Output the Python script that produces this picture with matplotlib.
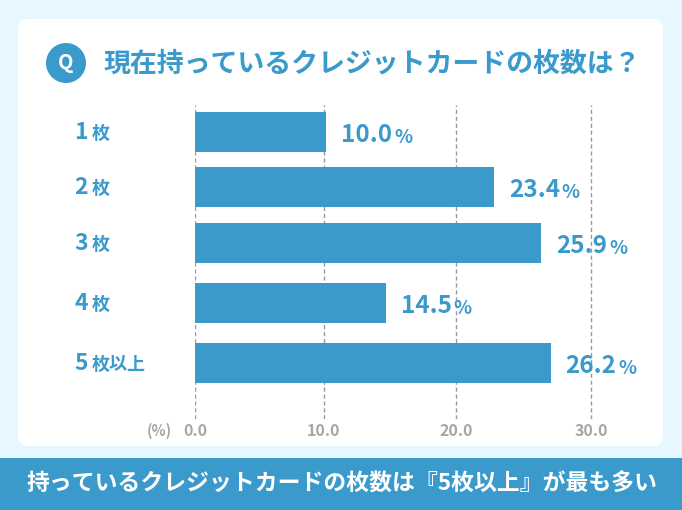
import numpy as np
import matplotlib
matplotlib.use("Agg")
import matplotlib.pyplot as plt
from matplotlib.patches import FancyBboxPatch, Circle, Rectangle

plt.rcParams['font.family'] = ['Noto Sans CJK JP', 'DejaVu Sans']

# data
counts = ["1", "2", "3", "4", "5"]
count_suffix = ["枚", "枚", "枚", "枚", "枚以上"]
printed_values = ["10.0", "23.4", "25.9", "14.5", "26.2"]
bar_lengths = [10.2, 22.8, 26.3, 14.7, 27.0]   # as read against the gridlines
bar_centers = [132, 187, 243, 303, 363]
tick_values = [0, 10, 20, 30]
tick_labels = ["0.0", "10.0", "20.0", "30.0"]
tick_px = [0, 128.5, 261, 396]                 # the reference's gridlines are unevenly spaced
title = "現在持っているクレジットカードの枚数は？"
footer = "持っているクレジットカードの枚数は『5枚以上』が最も多い"

BLUE = "#3A9ACB"
GREY = "#A6A6A6"
W, H = 682, 510

fig = plt.figure(figsize=((W + 0.01) / 100, (H + 0.01) / 100), dpi=100, facecolor="#E6F7FF")

# page layer in pixel coordinates
bg = fig.add_axes([0, 0, 1, 1])
bg.set_xlim(0, W)
bg.set_ylim(H, 0)
bg.axis("off")
bg.add_patch(FancyBboxPatch((28, 29), 625, 407, boxstyle="round,pad=10,rounding_size=10",
                            fc="white", ec="none"))
bg.add_patch(Rectangle((0, 458), W, 52, fc=BLUE, ec="none"))
bg.add_patch(Circle((66, 63), 20, fc=BLUE, ec="none"))
bg.text(66, 62.5, "Q", color="white", fontsize=14.5, fontweight="bold", ha="center", va="center")
bg.text(103.5, 63, title, color=BLUE, fontsize=19.4, fontweight="bold", ha="left", va="center")
bg.text(342.5, 484, footer, color="white", fontsize=16.45, fontweight="bold", ha="center", va="center")
bg.text(159, 431, "(%)", color=GREY, fontsize=10.5, fontweight="bold", ha="center", va="center")

# chart layer
x0, x1, y0, y1 = 195, 640, 105, 419
ax = fig.add_axes([x0 / W, 1 - y1 / H, (x1 - x0) / W, (y1 - y0) / H])
ax.patch.set_alpha(0)
xp = np.array(tick_values + [40.0])
fp = np.array(tick_px + [531.0])
ax.set_xscale("function", functions=(lambda v: np.interp(v, xp, fp),
                                     lambda p: np.interp(p, fp, xp)))
ax.set_xlim(0, np.interp(x1 - x0, fp, xp))
ax.set_ylim(y1, y0)
for s in ax.spines.values():
    s.set_visible(False)
ax.set_axisbelow(True)
ax.set_xticks(tick_values)
ax.set_xticklabels(tick_labels, color=GREY, fontsize=11.5, fontweight="bold")
ax.set_yticks([])
ax.tick_params(axis="x", length=0, pad=3)
ax.xaxis.grid(True, color="#999999", lw=1, ls=(0, (3, 2)))
ax.barh(bar_centers, bar_lengths, height=40, color=BLUE, lw=0)

# value labels
for v, c, t in zip(bar_lengths, bar_centers, printed_values):
    num = ax.annotate(t, xy=(v, c), xytext=(15, -10), textcoords="offset pixels",
                      color=BLUE, fontsize=17.5, fontweight="bold", ha="left", va="baseline")
    ax.annotate("%", xy=(1, 0), xycoords=num, xytext=(2, 0), textcoords="offset pixels",
                color=BLUE, fontsize=13.5, fontweight="bold", ha="left", va="bottom")

# category labels
for n, suf, c in zip(counts, count_suffix, bar_centers):
    num = bg.text(88, c + 7, n, color=BLUE, fontsize=16.5, fontweight="bold", ha="right", va="baseline")
    bg.text(91.5, c + 7, suf, color=BLUE, fontsize=13, fontweight="bold", ha="left", va="baseline")

fig.savefig("out.png", dpi=100, facecolor=fig.get_facecolor())
